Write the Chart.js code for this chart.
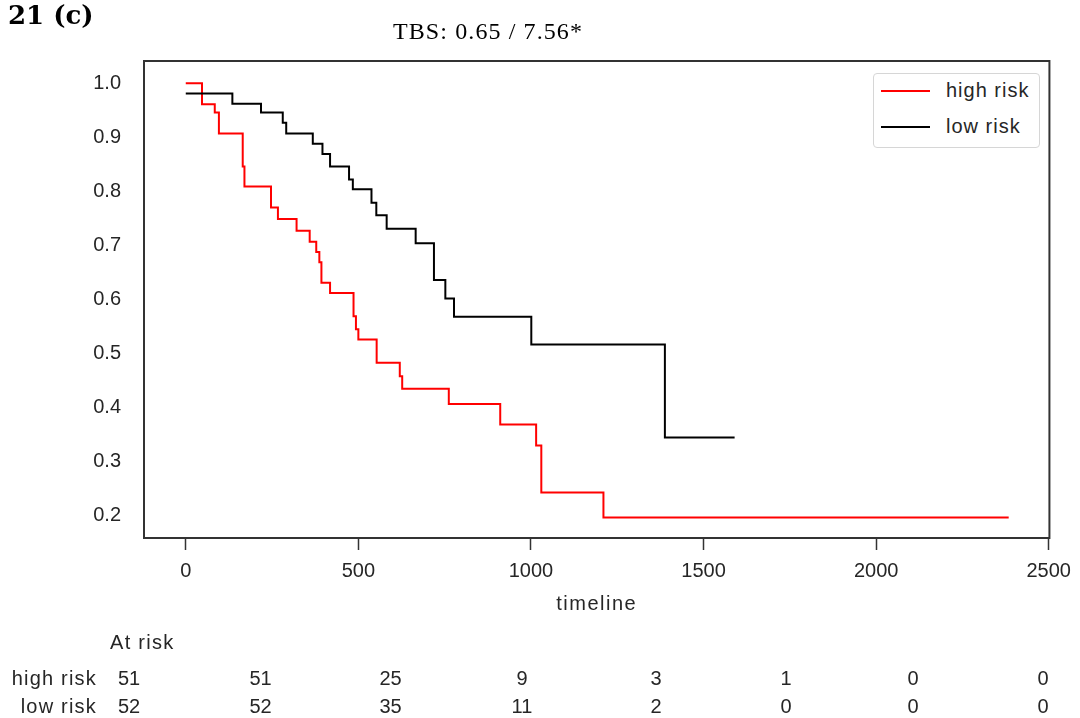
<!DOCTYPE html>
<html>
<head>
<meta charset="utf-8">
<script src="https://cdn.jsdelivr.net/npm/chart.js@4.4.1/dist/chart.umd.min.js"></script>
<style>
    html, body {
        margin: 0;
        padding: 0;
        background: #fff;
    }
    body {
        position: relative;
        width: 1080px;
        height: 718px;
        overflow: hidden;
    }
    #km {
        position: absolute;
        left: 0;
        top: 0;
    }
    .lbl {
        position: absolute;
        white-space: nowrap;
    }
    #legend {
        position: absolute;
        left: 873px;
        top: 73px;
        width: 165px;
        height: 73px;
        border: 1px solid #d6d6d6;
        border-radius: 4px;
        background: #fff;
    }
    .swatch {
        position: absolute;
        height: 2px;
    }
</style>
</head>
<body>
<canvas id="km" width="1080" height="718"></canvas>
<script>
// Kaplan-Meier curves (time, survival at that time)
const highRiskTime = [0, 47, 84, 96, 165, 170, 247, 267, 321, 359, 378, 387, 393, 418, 486, 493, 500, 553, 620, 627, 762, 911, 1015, 1030, 1210, 2384];
const highRiskSurv = [1.0, 0.961, 0.946, 0.907, 0.846, 0.809, 0.770, 0.749, 0.727, 0.707, 0.688, 0.669, 0.631, 0.612, 0.569, 0.545, 0.526, 0.483, 0.458, 0.435, 0.407, 0.369, 0.330, 0.243, 0.197, 0.197];

const lowRiskTime = [0, 135, 218, 281, 291, 368, 396, 418, 473, 484, 538, 552, 582, 666, 719, 752, 777, 1001, 1388, 1590];
const lowRiskSurv = [0.981, 0.962, 0.946, 0.927, 0.907, 0.888, 0.869, 0.846, 0.822, 0.804, 0.779, 0.756, 0.731, 0.704, 0.636, 0.602, 0.568, 0.517, 0.345, 0.345];

const groupLabels = ['high risk', 'low risk'];
const groupColors = ['#ff0000', '#000000'];

const xTicks = [0, 500, 1000, 1500, 2000, 2500];
const yTicks = [0.2, 0.3, 0.4, 0.5, 0.6, 0.7, 0.8, 0.9, 1.0];

const atRiskHigh = [51, 51, 25, 9, 3, 1, 0, 0];
const atRiskLow = [52, 52, 35, 11, 2, 0, 0, 0];

const figureTag = '21 (c)';
const figureScore = 'TBS: 0.65 / 7.56*';
const xTitle = 'timeline';

(() => {
    const sans = "'Liberation Sans', Arial, sans-serif";
    const textColor = '#262626';

    const addText = (text, x, baseline, opts = {}) => {
        const el = document.createElement('div');
        const size = opts.size || 20;
        el.className = 'lbl';
        el.textContent = text;
        el.style.font = `${opts.weight || 'normal'} ${size}px ${opts.family || sans}`;
        el.style.lineHeight = size + 'px';
        el.style.letterSpacing = (opts.spacing || 0) + 'px';
        el.style.color = opts.color || textColor;
        el.style.left = x + 'px';
        el.style.top = (baseline - (opts.ascent || 0.8465) * size) + 'px';
        const shift = { left: '0', center: '-50%', right: '-100%' }[opts.align || 'left'];
        el.style.transform = `translateX(${shift})`;
        (opts.parent || document.body).appendChild(el);
        return el;
    };

    const toPoints = (xs, ys) => xs.map((x, i) => ({ x: x, y: ys[i] }));

    const frame = {
        id: 'frame',
        afterDraw(chart) {
            const { ctx, chartArea: a } = chart;
            ctx.save();
            ctx.strokeStyle = '#333';
            ctx.lineWidth = 2;
            ctx.strokeRect(a.left, a.top, a.right - a.left, a.bottom - a.top);
            ctx.restore();
        },
    };

    const tickFont = { family: sans, size: 20 };

    const chart = new Chart(document.getElementById('km'), {
        type: 'line',
        data: {
            datasets: [
                {
                    label: groupLabels[0],
                    data: toPoints(highRiskTime, highRiskSurv),
                    borderColor: groupColors[0],
                    order: 1,
                },
                {
                    label: groupLabels[1],
                    data: toPoints(lowRiskTime, lowRiskSurv),
                    borderColor: groupColors[1],
                    order: 0,
                },
            ],
        },
        options: {
            responsive: false,
            animation: false,
            devicePixelRatio: 1,
            layout: {
                padding: { left: 0, top: 61, right: 28, bottom: 0 },
            },
            elements: {
                line: { borderWidth: 2, stepped: 'before', fill: false, tension: 0 },
                point: { radius: 0, hoverRadius: 0 },
            },
            plugins: {
                legend: { display: false },
                tooltip: { enabled: false },
            },
            scales: {
                x: {
                    type: 'linear',
                    min: -121,
                    max: 2502,
                    afterFit: (scale) => { scale.height = 180; },
                    afterBuildTicks: (scale) => { scale.ticks = xTicks.map((v) => ({ value: v })); },
                    border: { display: false },
                    grid: {
                        display: true,
                        drawOnChartArea: false,
                        drawTicks: true,
                        tickLength: 12,
                        tickColor: '#333',
                        tickWidth: 1.5,
                    },
                    ticks: {
                        font: tickFont,
                        color: textColor,
                        padding: 9,
                        maxRotation: 0,
                        autoSkip: false,
                        callback: (v) => String(v),
                    },
                },
                y: {
                    type: 'linear',
                    min: 0.159,
                    max: 1.041,
                    afterFit: (scale) => { scale.width = 144; },
                    afterBuildTicks: (scale) => { scale.ticks = yTicks.map((v) => ({ value: v })); },
                    border: { display: false },
                    grid: { display: false, drawTicks: false },
                    ticks: {
                        font: tickFont,
                        color: textColor,
                        padding: 23,
                        autoSkip: false,
                        callback: (v) => Number(v).toFixed(1),
                    },
                },
            },
        },
        plugins: [frame],
    });

    // legend box inside the axes, top right
    const legend = document.createElement('div');
    legend.id = 'legend';
    document.body.appendChild(legend);
    groupLabels.forEach((label, i) => {
        const sw = document.createElement('div');
        sw.className = 'swatch';
        sw.style.left = '7px';
        sw.style.top = (16 + i * 36) + 'px';
        sw.style.width = '49px';
        sw.style.background = chart.data.datasets[i].borderColor;
        legend.appendChild(sw);
        addText(label, 72, 22.5 + i * 36, { spacing: 1, parent: legend });
    });

    // headings
    addText(figureTag, 8, 24, {
        size: 26,
        weight: 'bold',
        family: "'DejaVu Serif', serif",
        color: '#000',
        ascent: 0.846,
    });
    addText(figureScore, 393, 39, {
        size: 24,
        family: "'Liberation Serif', 'Times New Roman', serif",
        color: '#000',
        spacing: 1.1,
        ascent: 0.8375,
    });

    const area = chart.chartArea;
    addText(xTitle, (area.left + area.right) / 2, 610, { align: 'center', spacing: 1.5 });

    // number-at-risk table under the plot
    const columns = [129, 260.5, 390.5, 522, 656, 786, 913, 1043];
    addText('At risk', 110, 648.5, { spacing: 1.3 });
    addText(groupLabels[0], 97, 685, { align: 'right', spacing: 1.2 });
    addText(groupLabels[1], 97, 712.5, { align: 'right', spacing: 1.2 });
    columns.forEach((cx, i) => {
        addText(String(atRiskHigh[i]), cx, 685, { align: 'center' });
        addText(String(atRiskLow[i]), cx, 712.5, { align: 'center' });
    });
})();
</script>
</body>
</html>
